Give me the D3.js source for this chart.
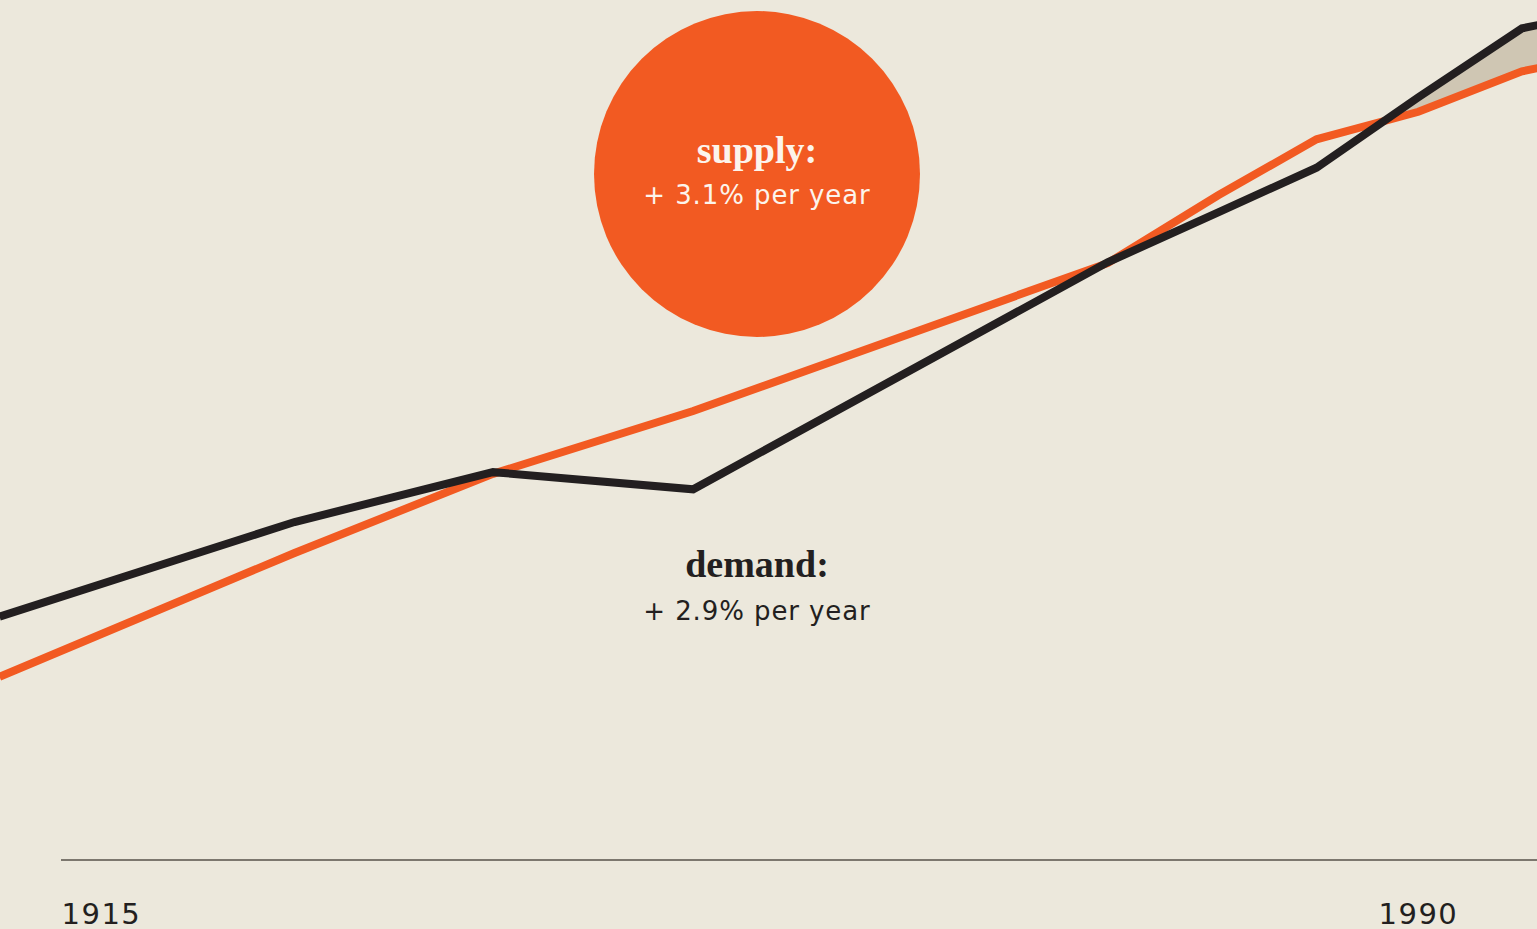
<!DOCTYPE html>
<html>
<head>
<meta charset="utf-8">
<script src="https://cdn.jsdelivr.net/npm/d3@7"></script>
<style>
  html, body { margin: 0; padding: 0; background: #ECE8DC; overflow: hidden; }
  svg { display: block; }
</style>
</head>
<body>
<svg id="chart" width="1537" height="929"></svg>
<script>
// ---- data ----
const years   = [1911.5, 1928.3, 1939.6, 1951.0, 1974.6, 1980.9, 1986.5, 1992.3, 1998.2, 1999.6];
const demand  = [28.3, 39.3, 45.1, 43.1, 69.5, 75.3, 80.5, 88.7, 96.7, 97.3];
const supply  = [21.3, 35.7, 44.9, 52.2, 69.4, 77.3, 83.8, 87.0, 91.7, 92.3];
const tickYears = [1915, 1990];
const labels = {
  supply: { title: "supply:", rate: "+ 3.1% per year" },
  demand: { title: "demand:", rate: "+ 2.9% per year" }
};
const shortageFrom = 1986.5;

const W = 1537, H = 929;
const colors = { bg: "#ECE8DC", supply: "#F25A22", demand: "#231F20", gap: "#CFC6B3", axis: "#57524A", bubbleText: "#FCF4EC" };

const svg = d3.select("#chart");
svg.append("rect").attr("width", W).attr("height", H).attr("fill", colors.bg);

const x = d3.scaleLinear().domain([1915, 1990]).range([61, 1378]);
const y = d3.scaleLinear().domain([0, 100]).range([860, 0]);

const rows = years.map((yr, i) => ({ year: yr, demand: demand[i], supply: supply[i] }));

// clip: region above supply line
const clipArea = d3.area().x(d => x(d.year)).y0(-50).y1(d => y(d.supply));
svg.append("clipPath").attr("id", "aboveSupply")
  .append("path").attr("d", clipArea(rows));

const gapArea = d3.area()
  .x(d => x(d.year))
  .y0(d => y(d.supply))
  .y1(d => y(d.demand));
svg.append("path")
  .attr("d", gapArea(rows.filter(d => d.year >= shortageFrom)))
  .attr("fill", colors.gap)
  .attr("clip-path", "url(#aboveSupply)");

// axis baseline
svg.append("line")
  .attr("x1", x(tickYears[0])).attr("x2", W)
  .attr("y1", y(0)).attr("y2", y(0))
  .attr("stroke", colors.axis).attr("stroke-width", 1.5);

const axis = d3.axisBottom(x).tickValues(tickYears).tickFormat(d3.format("d")).tickSize(0).tickPadding(0);
const gAxis = svg.append("g").attr("transform", `translate(0,${y(0)})`).call(axis);
gAxis.select(".domain").remove();
gAxis.selectAll("text")
  .attr("text-anchor", "start")
  .attr("dy", null)
  .attr("y", 64)
  .attr("fill", colors.demand)
  .style("font-family", "'DejaVu Sans', sans-serif")
  .style("font-size", "29px")
  .style("letter-spacing", "1.5px");

// lines
const lineOf = key => d3.line().x(d => x(d.year)).y(d => y(d[key]));
svg.append("path").attr("d", lineOf("supply")(rows))
  .attr("fill", "none").attr("stroke", colors.supply).attr("stroke-width", 8)
  .attr("stroke-linejoin", "miter");
svg.append("path").attr("d", lineOf("demand")(rows))
  .attr("fill", "none").attr("stroke", colors.demand).attr("stroke-width", 8)
  .attr("stroke-linejoin", "miter");

// supply bubble
const cx = 757;
svg.append("circle").attr("cx", cx).attr("cy", 174).attr("r", 163).attr("fill", colors.supply);

function label(yTitle, yRate, lab, color) {
  svg.append("text").attr("x", cx).attr("y", yTitle).attr("text-anchor", "middle")
    .attr("fill", color)
    .style("font-family", "'Liberation Serif', serif").style("font-weight", "bold").style("font-size", "38px")
    .text(lab.title);
  svg.append("text").attr("x", cx).attr("y", yRate).attr("text-anchor", "middle")
    .attr("fill", color)
    .style("font-family", "'DejaVu Sans', sans-serif").style("font-size", "26px")
    .style("letter-spacing", "0.9px")
    .text(lab.rate);
}
label(163, 204, labels.supply, colors.bubbleText);
label(577, 620, labels.demand, colors.demand);
</script>
</body>
</html>
